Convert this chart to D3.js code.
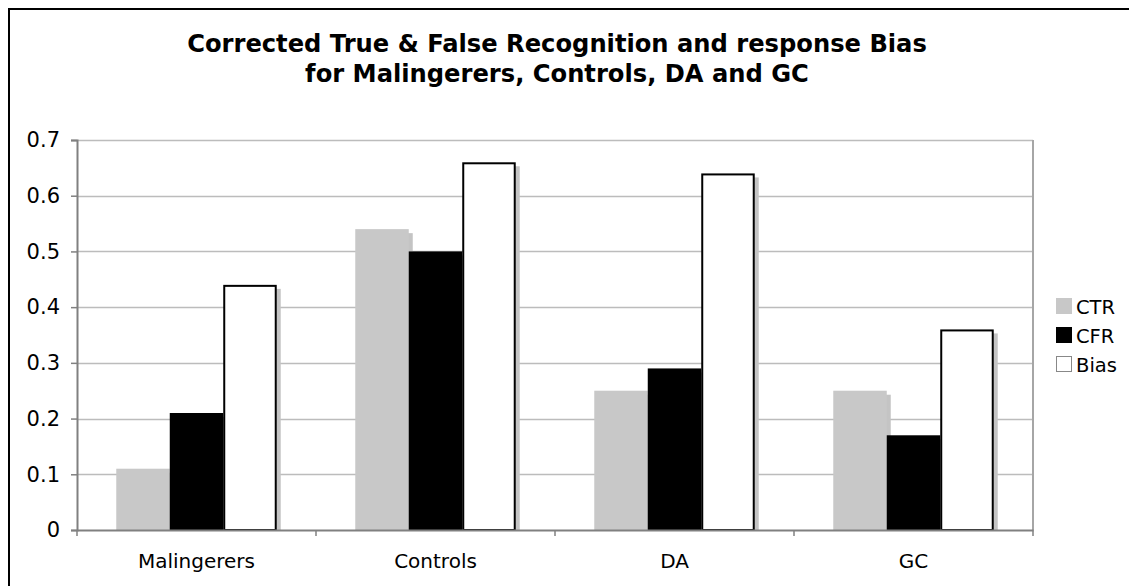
<!DOCTYPE html>
<html>
<head>
<meta charset="utf-8">
<script src="https://cdn.jsdelivr.net/npm/d3@7"></script>
<style>
  html, body { margin: 0; padding: 0; background: #fff; }
  svg { display: block; font-family: "DejaVu Sans", Verdana, sans-serif; }
</style>
</head>
<body>
<svg id="chart" width="1129" height="586"></svg>
<script>
// Chart data
const categories = ["Malingerers", "Controls", "DA", "GC"];
const seriesNames = ["CTR", "CFR", "Bias"];
const ctrValues = [0.11, 0.54, 0.25, 0.25];
const cfrValues = [0.21, 0.50, 0.29, 0.17];
const biasValues = [0.44, 0.66, 0.64, 0.36];
const yTicks = [0, 0.1, 0.2, 0.3, 0.4, 0.5, 0.6, 0.7];
const titleLines = [
  "Corrected True & False Recognition and response Bias",
  "for Malingerers, Controls, DA and GC"
];

const seriesValues = [ctrValues, cfrValues, biasValues];
const seriesFill = ["#c8c8c8", "#000000", "#ffffff"];
const seriesStroke = ["none", "none", "#000000"];

const svg = d3.select("#chart");
const plot = { left: 77, right: 1033, top: 140, bottom: 530 };

// Outer frame
svg.append("rect")
  .attr("x", 9).attr("y", 9)
  .attr("width", 1140).attr("height", 600)
  .attr("fill", "none").attr("stroke", "#000").attr("stroke-width", 2);

// Title
svg.append("g").selectAll("text")
  .data(titleLines)
  .join("text")
  .attr("x", 557)
  .attr("y", (d, i) => 52 + i * 30)
  .attr("text-anchor", "middle")
  .attr("font-size", 24.2)
  .attr("font-weight", "bold")
  .text(d => d);

const x0 = d3.scaleBand()
  .domain(categories)
  .range([plot.left, plot.right])
  .paddingInner(0).paddingOuter(0);

const x1 = d3.scaleBand()
  .domain(seriesNames)
  .range([0, x0.bandwidth()])
  .paddingInner(0)
  .paddingOuter(0.734);

const y = d3.scaleLinear()
  .domain([0, 0.7])
  .range([plot.bottom, plot.top]);

// Horizontal gridlines
svg.append("g").selectAll("line")
  .data(yTicks.filter(t => t > 0))
  .join("line")
  .attr("x1", plot.left).attr("x2", plot.right)
  .attr("y1", d => Math.round(y(d)) + 0.5).attr("y2", d => Math.round(y(d)) + 0.5)
  .attr("stroke", "#bcbcbc").attr("stroke-width", 1.5);

// Plot area border (right side)
svg.append("line")
  .attr("x1", plot.right).attr("x2", plot.right)
  .attr("y1", plot.top).attr("y2", plot.bottom)
  .attr("stroke", "#a6a6a6").attr("stroke-width", 2);

// Bars with drop shadows
const groups = svg.append("g").selectAll("g")
  .data(categories)
  .join("g")
  .attr("transform", d => `translate(${x0(d)},0)`);

groups.each(function(cat, ci) {
  const g = d3.select(this);
  seriesNames.forEach((s, si) => {
    const v = seriesValues[si][ci];
    const bx = x1(s);
    const bw = x1.bandwidth();
    // shadow
    g.append("rect")
      .attr("x", bx + 4)
      .attr("y", y(v) + 4)
      .attr("width", bw)
      .attr("height", y(0) - y(v) - 4)
      .attr("fill", "#c4c4c4");
    const r = g.append("rect")
      .attr("fill", seriesFill[si]);
    if (seriesStroke[si] !== "none") {
      r.attr("x", bx + 1).attr("y", y(v) + 1)
        .attr("width", bw - 2).attr("height", y(0) - y(v) - 1)
        .attr("stroke", seriesStroke[si]).attr("stroke-width", 2);
    } else {
      r.attr("x", bx).attr("y", y(v))
        .attr("width", bw).attr("height", y(0) - y(v));
    }
  });
});

// Y axis
const yAxis = svg.append("g")
  .attr("transform", `translate(${plot.left},0)`)
  .call(d3.axisLeft(y).tickValues(yTicks).tickSize(6).tickPadding(11)
    .tickFormat(d => d === 0 ? "0" : d3.format(".1f")(d)));
yAxis.select(".domain").attr("stroke", "#808080").attr("stroke-width", 2);
yAxis.selectAll(".tick line").attr("stroke", "#808080").attr("stroke-width", 1.5);
yAxis.selectAll(".tick text")
  .attr("font-size", 21).attr("fill", "#000")
  .attr("font-family", "DejaVu Sans, Verdana, sans-serif");

// X axis
const xAxis = svg.append("g")
  .attr("transform", `translate(0,${plot.bottom})`)
  .call(d3.axisBottom(x0).tickSize(0).tickPadding(24));
xAxis.select(".domain").attr("stroke", "#808080").attr("stroke-width", 2);
xAxis.selectAll(".tick text")
  .attr("font-size", 20).attr("fill", "#000")
  .attr("font-family", "DejaVu Sans, Verdana, sans-serif");

// Category boundary ticks
const bounds = categories.map(c => x0(c)).concat([plot.right]);
svg.append("g").selectAll("line")
  .data(bounds)
  .join("line")
  .attr("x1", d => d).attr("x2", d => d)
  .attr("y1", plot.bottom).attr("y2", plot.bottom + 6)
  .attr("stroke", "#808080").attr("stroke-width", 1.5);

// Legend
const legend = svg.append("g").attr("transform", "translate(1056,298)");
const items = legend.selectAll("g")
  .data(seriesNames)
  .join("g")
  .attr("transform", (d, i) => `translate(0,${i * 29})`);
items.append("rect")
  .attr("x", 0.5).attr("y", 0.5)
  .attr("width", 15).attr("height", 15)
  .attr("fill", (d, i) => seriesFill[i])
  .attr("stroke", (d, i) => i === 1 ? "#000" : (i === 0 ? "#c8c8c8" : "#888"))
  .attr("stroke-width", 1);
items.append("text")
  .attr("x", 20).attr("y", 16)
  .attr("font-size", 19.5)
  .text(d => d);
</script>
</body>
</html>
